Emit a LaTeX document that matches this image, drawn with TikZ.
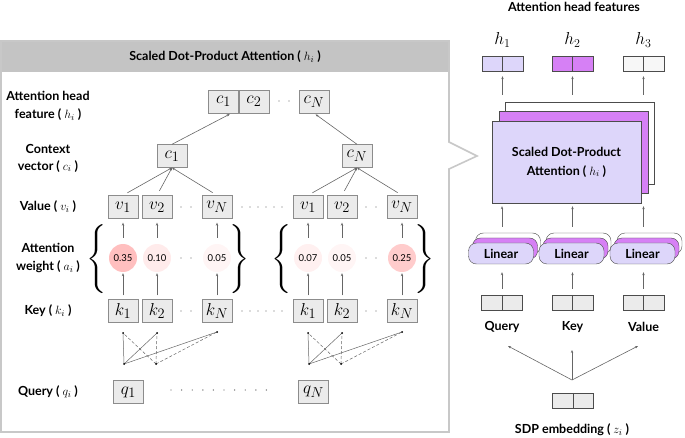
\documentclass[tikz,border=0pt]{standalone}
\usepackage{fontspec}
\setmainfont{Lato}
\usepackage{graphicx}
\usetikzlibrary{arrows.meta,positioning}

\definecolor{panelgray}{HTML}{C8C8C8}
\definecolor{titlegray}{HTML}{C4C4C4}
\definecolor{cellgray}{HTML}{EBEBEB}
\definecolor{lavender}{HTML}{DDD6FA}
\definecolor{orchid}{HTML}{D680F5}

\newcommand\txtsize{\fontsize{12.5}{15}\selectfont}
\newcommand\vecsize{\fontsize{19}{21}\selectfont}

\tikzset{
  vec/.style={draw=black!45, fill=cellgray, minimum width=30pt, minimum height=23pt, inner sep=0pt, font=\vecsize},
  wgt/.style={circle, minimum size=28pt, inner sep=0pt, font=\fontsize{9.5}{11}\selectfont},
  rowlabel/.style={font=\txtsize\bfseries, align=center},
  bold/.style={font=\txtsize\bfseries},
  link/.style={draw=black!60, line width=.6pt, -{Stealth[length=3pt,width=2.4pt]}},
  wire/.style={draw=black!60, line width=.5pt},
  pair/.style={draw=black!70, minimum width=41pt, minimum height=15pt, inner sep=0pt},
  linear/.style={draw=black!70, rounded corners=8pt, minimum width=65pt, minimum height=21pt, inner sep=0pt, font=\txtsize\bfseries},
  sheet/.style={draw=black!70, minimum width=149pt, minimum height=82pt},
  brace/.style={inner sep=0pt, font=\normalsize},
}

\begin{document}
\begin{tikzpicture}[x=1pt,y=-1pt,font=\txtsize]
  \useasboundingbox (0,0) rectangle (685,438);

  % zoomed panel with its pointer
  \fill[titlegray] (1,41) rectangle (449,72);
  \draw[panelgray,line width=1.6pt] (1,41) -- (449,41) -- (449,142) -- (477,156)
    -- (449,169) -- (449,432) -- (1,432) -- cycle;
  \node[bold] (title) at (225,57) {Scaled Dot-Product Attention ( $h_i$ )};

  \node[rowlabel] (lab head) at (48,106) {Attention head\\[3pt]feature ( $h_i$ )};
  \node[rowlabel] (lab ctx)  at (48,158) {Context\\[2pt]vector ( $c_i$ )};
  \node[rowlabel] (lab val)  at (48,207) {Value ( $v_i$ )};
  \node[rowlabel] (lab wgt)  at (48,258) {Attention\\[3pt]weight ( $a_i$ )};
  \node[rowlabel] (lab key)  at (48,311) {Key ( $k_i$ )};
  \node[rowlabel] (lab qry)  at (48,392) {Query ( $q_i$ )};

  % head feature
  \node[vec] (h c1) at (223.5,101.5) {$c_1$};
  \node[vec,right=0pt of h c1] (h c2) {$c_2$};
  \node[vec] (h cN) at (314,101.5) {$c_N$};
  \fill[black!60] (279,101) circle (.7pt) (289,101) circle (.7pt);

  % the two groups
  \foreach \g/\dx/\wa/\wb/\wc/\pa/\pb/\pc in {1/0/0.35/0.10/0.05/25/8/4, N/185/0.07/0.05/0.25/6/4/20} {
    \begin{scope}[xshift=\dx pt]
      \node[vec] (v1-\g) at (123,207) {$v_1$};
      \node[vec] (v2-\g) at (157,207) {$v_2$};
      \node[vec] (vN-\g) at (217,207) {$v_N$};
      \node[vec] (ctx-\g) at (172,156) {$c_\g$};

      \node[wgt,fill=red!\pa] (a1-\g) at (123,258) {\wa};
      \node[wgt,fill=red!\pb] (a2-\g) at (157,258) {\wb};
      \node[wgt,fill=red!\pc] (aN-\g) at (217,258) {\wc};

      \node[vec] (k1-\g) at (123,311) {$k_1$};
      \node[vec] (k2-\g) at (157,311) {$k_2$};
      \node[vec] (kN-\g) at (217,311) {$k_N$};

      \node[vec] (q-\g) at (128.5,392) {$q_\g$};

      \node[brace] (open-\g)  at (97,259)  {\scalebox{2.5}[2.3]{$\Bigg\{$}};
      \node[brace] (close-\g) at (240,259) {\scalebox{2.5}[2.3]{$\Bigg\}$}};

      \foreach \y in {207,258,311}
        \fill[black!60] (181,\y) circle (.7pt) (191,\y) circle (.7pt);

      \foreach \i in {1,2,N} {
        \draw[link,shorten <=4pt,shorten >=1pt] (k\i-\g) -- (a\i-\g);
        \draw[link,shorten <=6pt,shorten >=4pt] (a\i-\g) -- (v\i-\g);
        \draw[link,shorten <=5pt] (v\i-\g.north) -- (ctx-\g.south);
      }

      % key / query pairs
      \coordinate (p1-\g) at (123,333);
      \coordinate (p2-\g) at (157,333);
      \coordinate (pN-\g) at (217,332);
      \coordinate (b1-\g) at (124,364);
      \coordinate (b2-\g) at (156,364);
      \draw[wire] (b1-\g) -- (p1-\g) (b1-\g) -- (p2-\g) (b1-\g) -- (pN-\g);
      \draw[wire,densely dashed] (b2-\g) -- (p1-\g) (b2-\g) -- (p2-\g) (b2-\g) -- (pN-\g);
      \foreach \p in {p1,p2,pN,b1,b2}
        \fill (\p-\g) circle (1pt);
    \end{scope}
  }

  \foreach \x in {242,250,...,282}
    \fill[black!60] (\x,207) circle (.7pt) (\x,311) circle (.7pt);
  \foreach \i in {0,...,9}
    \fill[black!60] (171+\i*10.6,390) circle (.7pt);

  \draw[link,shorten >=2pt] (ctx-1.north) -- ([xshift=8pt]h c1.south);
  \draw[link,shorten >=2pt] (ctx-N.north) -- (h cN.south);

  % right side: multi-head block
  \node[bold] (feat title) at (574,7) {Attention head features};

  \node[sheet,fill=white]  (sdp back) at (580,143) {};
  \node[sheet,fill=orchid] (sdp mid)  at (573.5,152) {};
  \node[sheet,fill=lavender,align=center,bold] (sdp) at (566.5,162)
    {Scaled Dot-Product\\[4pt]Attention ( $h_i$ )};

  \foreach \n/\cx/\col in {1/502.5/lavender, 2/572.5/orchid, 3/643.5/black!3} {
    \node[font=\fontsize{18}{20}\selectfont] (h\n lab) at (\cx,40) {$h_\n$};
    \node[pair,fill=\col] (h\n) at (\cx,63.5) {};
    \draw[black!70] (h\n.north) -- (h\n.south);
    \draw[link,shorten <=7pt,shorten >=5pt] (sdp back.north -| h\n) -- (h\n.south);
  }

  \foreach \n/\cx/\txt in {qry/502/Query, key/572.5/Key, val/643.5/Value} {
    \coordinate (col-\n) at (\cx,0);
    \node[linear,fill=white]    (lin-\n-back) at (\cx+6,243.5) {};
    \node[linear,fill=orchid]   (lin-\n-mid)  at (\cx+3,248.5) {};
    \node[linear,fill=lavender] (lin-\n)      at (\cx-1,253.5) {Linear};
    \node[pair,fill=cellgray] (in-\n) at (\cx,302.5) {};
    \draw[black!70] (in-\n.north) -- (in-\n.south);
    \node[bold] (lab-\n) at (\cx,327) {\txt};
    \draw[link,shorten <=6pt,shorten >=8pt] (in-\n.north) -- (col-\n |- lin-\n.south);
    \draw[link,shorten <=6pt,shorten >=3pt] (lin-\n-back.north -| col-\n) -- (sdp.south -| col-\n);
  }

  % SDP embedding fan-out
  \node[pair,fill=cellgray] (emb) at (573,400.5) {};
  \draw[black!70] (emb.north) -- (emb.south);
  \node[bold] (emb lab) at (572,430) {SDP embedding ( $z_i$ )};
  \coordinate (fan) at (572,380);
  \coordinate (tip-qry) at (508,346);
  \coordinate (tip-key) at (572,350);
  \coordinate (tip-val) at (638,346);
  \draw[link] (fan) -- (tip-qry);
  \draw[link] (fan) -- (tip-key);
  \draw[link] (fan) -- (tip-val);
\end{tikzpicture}
\end{document}
